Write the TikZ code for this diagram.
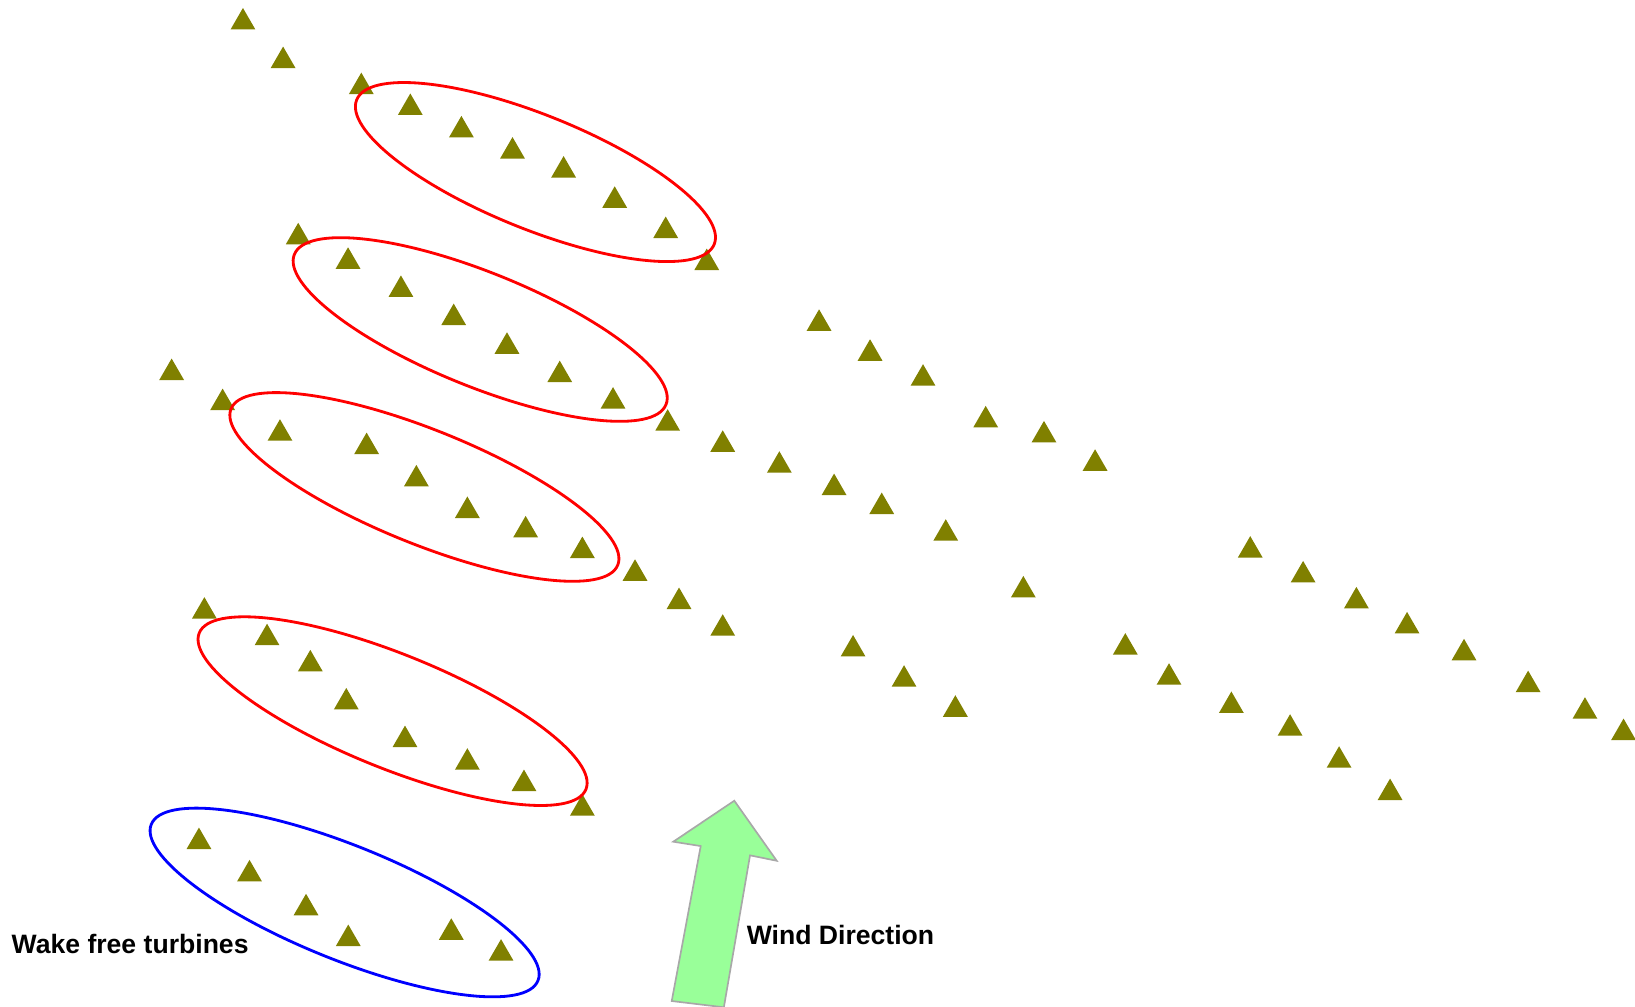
\documentclass[tikz,border=0pt]{standalone}
\usepackage{fontspec}
\setmainfont{Liberation Sans}
\usetikzlibrary{shapes.geometric}
\definecolor{turbcol}{HTML}{808000}
\definecolor{arrowfill}{HTML}{99FF99}
\definecolor{arrowline}{HTML}{A8A8A8}
\begin{document}
\begin{tikzpicture}[x=1pt,y=1pt,
  turb/.style={regular polygon, regular polygon sides=3, minimum size=27.5pt,
    inner sep=0pt, outer sep=0pt, fill=turbcol, draw=none},
  ring/.style={ellipse, inner sep=0pt, line width=2.7pt, rotate=-22},
  lbl/.style={font=\bfseries\fontsize{25.5}{30}\selectfont, inner sep=0pt, anchor=base west},
  windarrow/.style={fill=arrowfill, draw=arrowline, line width=1.6pt, line join=miter}]
\useasboundingbox (0,0) rectangle (1568,-965);
% turbines
\foreach \x/\y [count=\i] in {
  233/18, 271.5/55, 346.5/80, 393.5/100, 442.5/121.5, 491.5/141.8, 540.5/160, 589.5/189, 638.4/218, 677.8/248.7,
  785.5/307, 834.4/335.7, 885.2/359.6, 945.3/399.6, 1001.2/414, 1050.2/441.2,
  286/224, 333.8/247.5, 384.5/274.5, 435.1/301.5, 486.2/329, 536.8/356.2, 587.9/381.6,
  640.3/402.8, 693.1/423, 747.4/443.1, 799.9/464.5, 845.6/482.7, 907/508.3, 981.4/562.7,
  1079.2/617.5, 1121.1/646.4, 1180.9/673.5, 1237.2/695.3, 1284.2/726, 1333.1/757,
  164.6/354.2, 213.5/383, 268.5/412.4, 351.6/425.2, 399.3/456.2, 448.2/486.5, 504.1/505.1, 558.5/524.9,
  609/546.7, 651.2/573.8, 693.1/599.4, 818.1/619.3, 867/648.3, 916.2/677.1,
  196/583, 256.1/608.5, 297.6/633.6, 332.1/670.1, 388.4/706.2, 448.2/727.9, 502.5/748.4, 558.5/772,
  190.8/804, 239.3/835, 293.5/867.5, 334/897, 432.8/891, 480.5/911,
  1199/524.5, 1249.7/548.3, 1300.8/573.2, 1349.4/597.2, 1404/623, 1465.5/653.5, 1520/679, 1557/699.5}
  \node[turb] (t\i) at (\x,-\y-3.4) {};
% wake groups
\node[ring, draw=red, minimum width=369.8pt, minimum height=109.4pt] (e1) at (513.5,-165) {};
\node[ring, draw=red, minimum width=384.4pt, minimum height=109.4pt] (e2) at (460.5,-316) {};
\node[ring, draw=red, minimum width=400pt, minimum height=109.4pt] (e3) at (407,-467) {};
\node[ring, draw=red, minimum width=400pt, minimum height=109.4pt] (e4) at (376.5,-682) {};
\node[ring, draw=blue, minimum width=400pt, minimum height=109.4pt] (e5) at (330.5,-865.5) {};
% wind arrow
\draw[windarrow] (704.2,-767.9) -- (744.9,-825.5) -- (719.3,-820.3) -- (694.2,-966)
  -- (644.2,-960) -- (672,-811.4) -- (645.7,-807.2) -- cycle;
% labels
\node[lbl] (wdir) at (716,-906) {Wind Direction};
\node[lbl] (wake) at (11,-914) {Wake free turbines};
\end{tikzpicture}
\end{document}
